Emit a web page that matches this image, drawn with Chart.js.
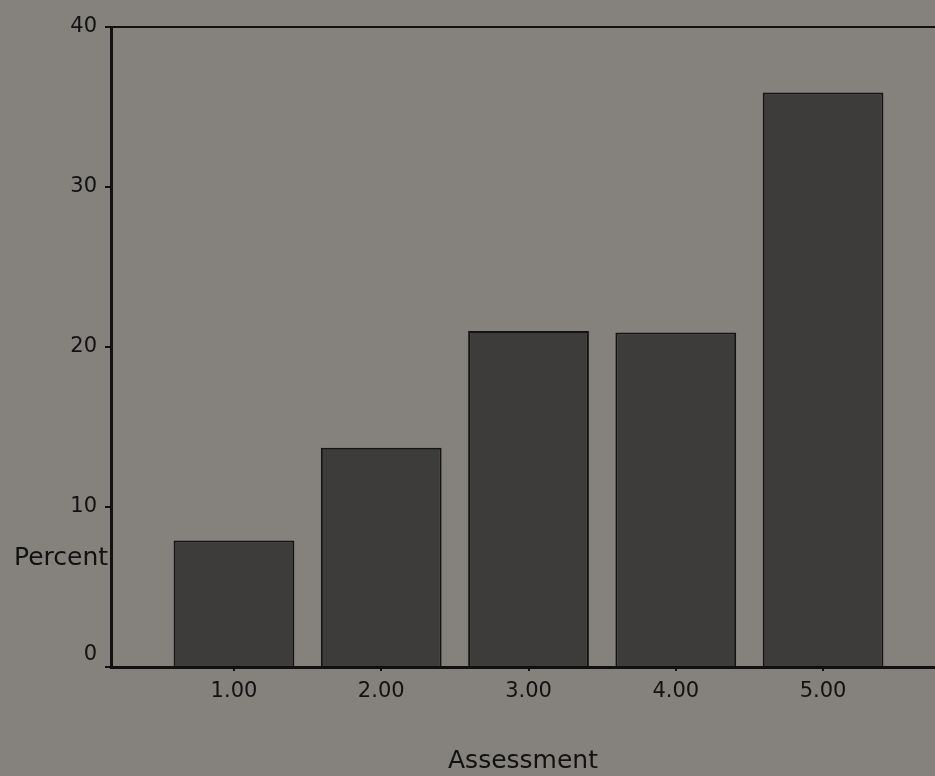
<!DOCTYPE html>
<html>
<head>
<meta charset="utf-8">
<script src="https://cdn.jsdelivr.net/npm/chart.js@4/dist/chart.umd.min.js"></script>
<style>
  html, body { margin: 0; padding: 0; background: #85827d; }
  #wrap { width: 935px; height: 776px; }
</style>
</head>
<body>
<div id="wrap"><canvas id="c" width="935" height="776"></canvas></div>
<script>
// data
var categories = ["1.00", "2.00", "3.00", "4.00", "5.00"];
var percents = [7.9, 13.7, 21.0, 20.9, 35.9];
var yTicks = [0, 10, 20, 30, 40];

var ink = "#111111";

// horizontal "Percent" label, SPSS style
var percentLabel = {
  id: "percentLabel",
  afterDraw: function (chart) {
    var ctx = chart.ctx;
    ctx.save();
    ctx.font = "25px 'DejaVu Sans'";
    ctx.fillStyle = ink;
    ctx.textAlign = "left";
    ctx.textBaseline = "alphabetic";
    ctx.fillText("Percent", 14, chart.scales.y.getPixelForValue(6.4));
    ctx.restore();
  }
};

new Chart(document.getElementById("c").getContext("2d"), {
  type: "bar",
  data: {
    datasets: [
      {
        label: "Percent",
        data: categories.map(function (c, i) { return { x: i + 1, y: percents[i] }; }),
        backgroundColor: "#3d3c3a",
        borderColor: "#141414",
        borderWidth: 2,
        categoryPercentage: 1,
        barPercentage: 0.82
      }
    ]
  },
  options: {
    responsive: false,
    animation: false,
    layout: { padding: { top: 27, right: 0, left: 0, bottom: 0 } },
    plugins: {
      legend: { display: false },
      tooltip: { enabled: false }
    },
    scales: {
      x: {
        type: "linear",
        offset: false,
        min: 0.165,
        max: 5.76,
        afterBuildTicks: function (scale) {
          scale.ticks = categories.map(function (c, i) { return { value: i + 1 }; });
        },
        afterFit: function (scale) { scale.height = 109; },
        ticks: {
          color: ink,
          font: { family: "'DejaVu Sans'", size: 21 },
          padding: 8,
          maxRotation: 0,
          callback: function (v) { return categories[v - 1]; }
        },
        grid: { offset: false, drawOnChartArea: false, tickLength: 4, tickColor: ink, lineWidth: 2 },
        border: { display: true, color: ink, width: 3 },
        title: {
          display: true,
          text: "Assessment",
          color: ink,
          font: { family: "'DejaVu Sans'", size: 25 },
          padding: { top: 0, bottom: 0 }
        }
      },
      y: {
        min: 0,
        max: 40,
        afterBuildTicks: function (scale) {
          scale.ticks = yTicks.map(function (v) { return { value: v }; });
        },
        afterFit: function (scale) { scale.width = 111; },
        ticks: {
          color: ink,
          font: { family: "'DejaVu Sans'", size: 21 },
          padding: 8,
          // the zero label sits a little above the axis line
          callback: function (v) { return v === 0 ? ["0", ""] : String(v); }
        },
        grid: {
          tickLength: 6,
          lineWidth: 2,
          tickColor: ink,
          color: function (ctx) { return ctx.tick && ctx.tick.value === 40 ? ink : "transparent"; }
        },
        border: { display: true, color: ink, width: 3 }
      }
    }
  },
  plugins: [percentLabel]
});
</script>
</body>
</html>
